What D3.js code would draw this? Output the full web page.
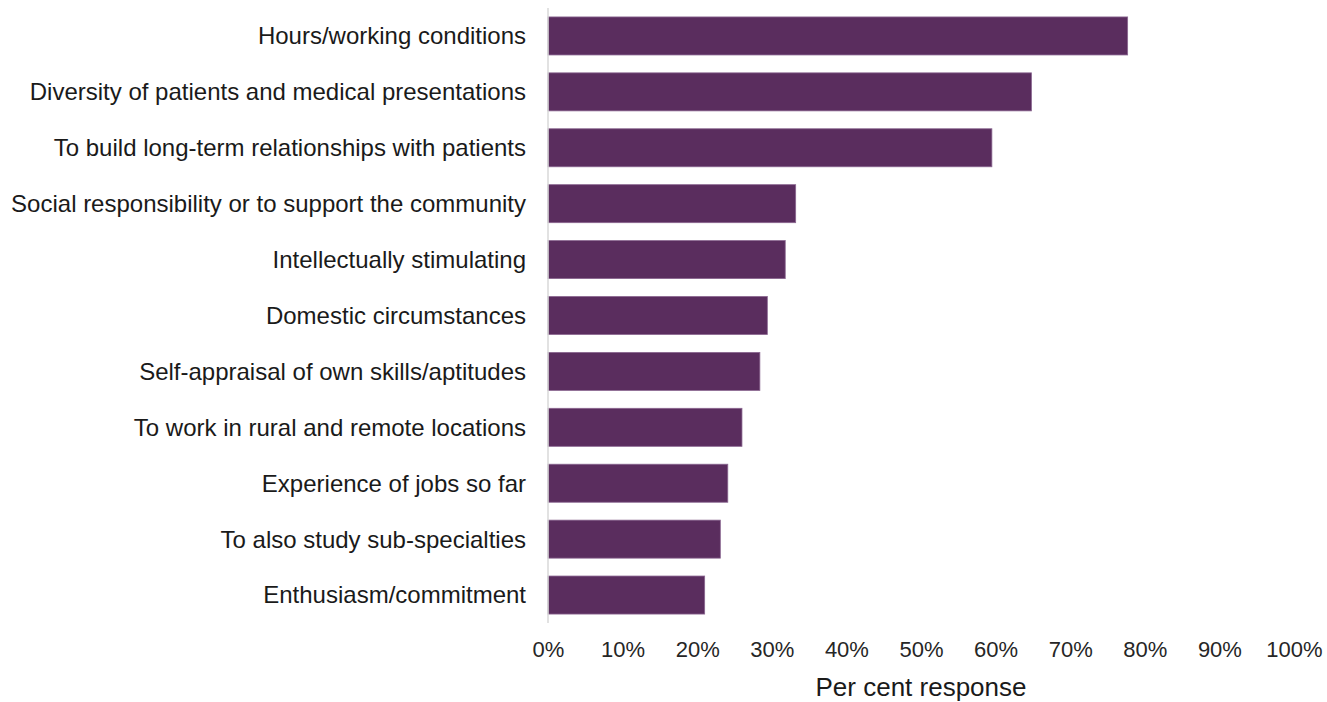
<!DOCTYPE html>
<html>
<head>
<meta charset="utf-8">
<script src="https://cdn.jsdelivr.net/npm/d3@7"></script>
<style>
  body { margin: 0; background: #fff; }
  text { font-family: "Liberation Sans", Arial, sans-serif; }
</style>
</head>
<body>
<div id="chart"></div>
<script>
var categories = [
  "Hours/working conditions",
  "Diversity of patients and medical presentations",
  "To build long-term relationships with patients",
  "Social responsibility or to support the community",
  "Intellectually stimulating",
  "Domestic circumstances",
  "Self-appraisal of own skills/aptitudes",
  "To work in rural and remote locations",
  "Experience of jobs so far",
  "To also study sub-specialties",
  "Enthusiasm/commitment"
]
var values = [77.7, 64.8, 59.5, 33.2, 31.8, 29.4, 28.4, 26.0, 24.1, 23.1, 21.0]
var tickValues = [0, 10, 20, 30, 40, 50, 60, 70, 80, 90, 100]
var axisTitle = "Per cent response"

var margin = {top: 8, right: 33, bottom: 79, left: 548},
    width = 1327 - margin.left - margin.right,
    height = 702 - margin.top - margin.bottom;

var svg = d3.select("#chart")
  .append("svg")
    .attr("width", 1327)
    .attr("height", 702)
  .append("g")
    .attr("transform", "translate(" + margin.left + "," + margin.top + ")");

var x = d3.scaleLinear()
  .domain([0, 100])
  .range([0, width]);

var y = d3.scaleBand()
  .domain(categories)
  .range([0, height])
  .paddingInner(0.32)
  .paddingOuter(0.16);

// bars
svg.selectAll("rect.bar")
  .data(categories)
  .enter()
  .append("rect")
    .attr("class", "bar")
    .attr("x", x(0))
    .attr("y", d => y(d))
    .attr("width", (d, i) => x(values[i]) - x(0))
    .attr("height", y.bandwidth())
    .attr("fill", "#5a2d5e")
    .attr("stroke", "#8a6690")
    .attr("stroke-width", 0.8);

// vertical axis line
svg.append("line")
  .attr("x1", 0).attr("x2", 0)
  .attr("y1", 0).attr("y2", height)
  .attr("stroke", "#d9d9d9")
  .attr("stroke-width", 1.5);

// category labels
svg.selectAll("text.cat")
  .data(categories)
  .enter()
  .append("text")
    .attr("class", "cat")
    .attr("x", -22)
    .attr("y", d => y(d) + y.bandwidth() / 2)
    .attr("dy", "0.35em")
    .attr("text-anchor", "end")
    .attr("font-size", 24)
    .attr("fill", "#1a1a1a")
    .text(d => d);

// x axis
var xAxis = svg.append("g")
  .attr("transform", "translate(0," + height + ")")
  .call(d3.axisBottom(x).tickValues(tickValues).tickSize(0).tickPadding(18).tickFormat(d => d + "%"));
xAxis.select(".domain").remove();
xAxis.selectAll("text")
  .attr("font-size", 22)
  .attr("fill", "#262626")
  .style("font-family", "Liberation Sans, Arial, sans-serif");

svg.append("text")
  .attr("x", width / 2)
  .attr("y", height + 64)
  .attr("dy", "0.35em")
  .attr("text-anchor", "middle")
  .attr("font-size", 26)
  .attr("fill", "#1a1a1a")
  .text(axisTitle);
</script>
</body>
</html>
